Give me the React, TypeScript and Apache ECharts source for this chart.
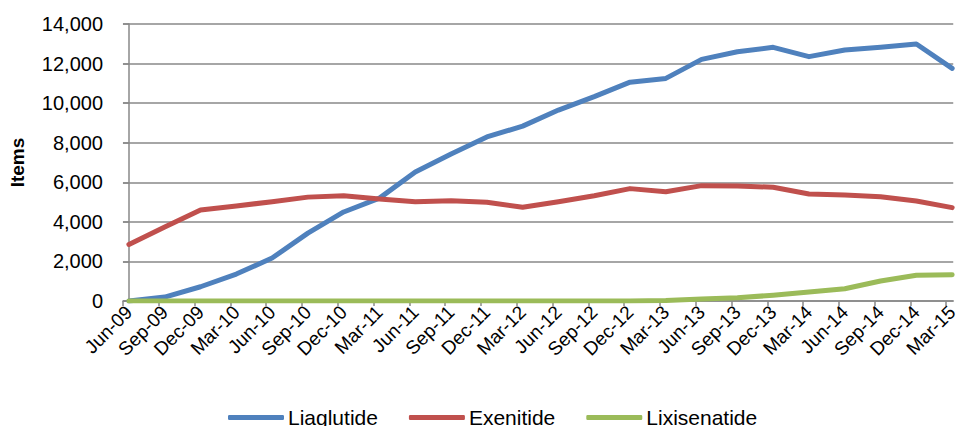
import React, { useEffect, useRef } from "react";
import * as echarts from "echarts";

const categories = [
  "Jun-09", "Sep-09", "Dec-09", "Mar-10", "Jun-10", "Sep-10", "Dec-10", "Mar-11",
  "Jun-11", "Sep-11", "Dec-11", "Mar-12", "Jun-12", "Sep-12", "Dec-12", "Mar-13",
  "Jun-13", "Sep-13", "Dec-13", "Mar-14", "Jun-14", "Sep-14", "Dec-14", "Mar-15",
];

const liaglutide = [
  0, 200, 720, 1360, 2170, 3430, 4500, 5200,
  6520, 7430, 8290, 8840, 9650, 10330, 11060, 11250,
  12210, 12600, 12820, 12350, 12690, 12820, 12990, 11760,
];

const exenitide = [
  2860, 3740, 4600, 4800, 5020, 5250, 5320, 5150,
  5020, 5070, 4990, 4740, 5020, 5320, 5680, 5520,
  5830, 5810, 5750, 5410, 5360, 5270, 5050, 4720,
];

const lixisenatide = [
  0, 0, 0, 0, 0, 0, 0, 0,
  0, 0, 0, 0, 0, 0, 0, 20,
  100, 170, 290, 450, 620, 1010, 1300, 1330,
];

const seriesNames = ["Liaglutide", "Exenitide", "Lixisenatide"];
const colors = ["#4F81BD", "#C0504D", "#9BBB59"];

export default function App() {
  const ref = useRef<HTMLDivElement>(null);

  useEffect(() => {
    if (!ref.current) return;
    const chart = echarts.init(ref.current, null, { renderer: "svg" });
    const font = "'Liberation Sans', Arial, sans-serif";
    const dataSets = [liaglutide, exenitide, lixisenatide];
    const tickShift = -0.1657;
    const labelValues = categories.map((_, i) => i);
    const tickValues = categories.map((_, i) => i + tickShift);
    chart.setOption({
      animation: false,
      color: colors,
      grid: { left: 121, right: 0, top: 24, bottom: 125, containLabel: false },
      legend: {
        left: 228,
        top: 407,
        padding: 0,
        itemWidth: 56,
        itemHeight: 5,
        itemGap: 31,
        icon: "roundRect",
        textStyle: { fontFamily: font, fontSize: 21, color: "#000", padding: [0, 0, 0, -1] },
        data: seriesNames,
      },
      xAxis: {
        type: "value",
        min: tickShift,
        max: 23.03,
        axisLine: { show: true, onZero: false, lineStyle: { color: "#888", width: 1.5 } },
        axisTick: {
          show: true,
          length: 5,
          customValues: tickValues,
          lineStyle: { color: "#888", width: 1.5 },
        },
        axisLabel: {
          rotate: 45,
          margin: 8,
          customValues: labelValues,
          showMinLabel: true,
          showMaxLabel: true,
          fontFamily: font,
          fontSize: 19,
          color: "#000",
          formatter: (v: number) => categories[Math.round(v)] ?? "",
        },
        splitLine: { show: false },
      },
      yAxis: {
        type: "value",
        min: 0,
        max: 14000,
        interval: 2000,
        name: "Items",
        nameLocation: "middle",
        nameGap: 96,
        nameTextStyle: { fontFamily: font, fontSize: 19, fontWeight: "bold", color: "#000" },
        axisLine: { show: true, lineStyle: { color: "#888", width: 1.5 } },
        axisTick: { show: true, length: 6, lineStyle: { color: "#888", width: 1.5 } },
        axisLabel: {
          margin: 20,
          fontFamily: font,
          fontSize: 20,
          color: "#000",
          formatter: (v: number) => v.toLocaleString("en-US"),
        },
        splitLine: { show: true, lineStyle: { color: "#888", width: 1.5 } },
      },
      series: seriesNames.map((name, i) => ({
        name,
        type: "line",
        data: dataSets[i].map((v, j) => [j, v]),
        symbol: "none",
        lineStyle: { width: 5, color: colors[i], cap: "round", join: "round" },
        itemStyle: { color: colors[i] },
      })),
    });
    return () => chart.dispose();
  }, []);

  return (
    <div
      ref={ref}
      style={{ position: "absolute", left: 0, top: 0, width: 961, height: 426 }}
    />
  );
}
